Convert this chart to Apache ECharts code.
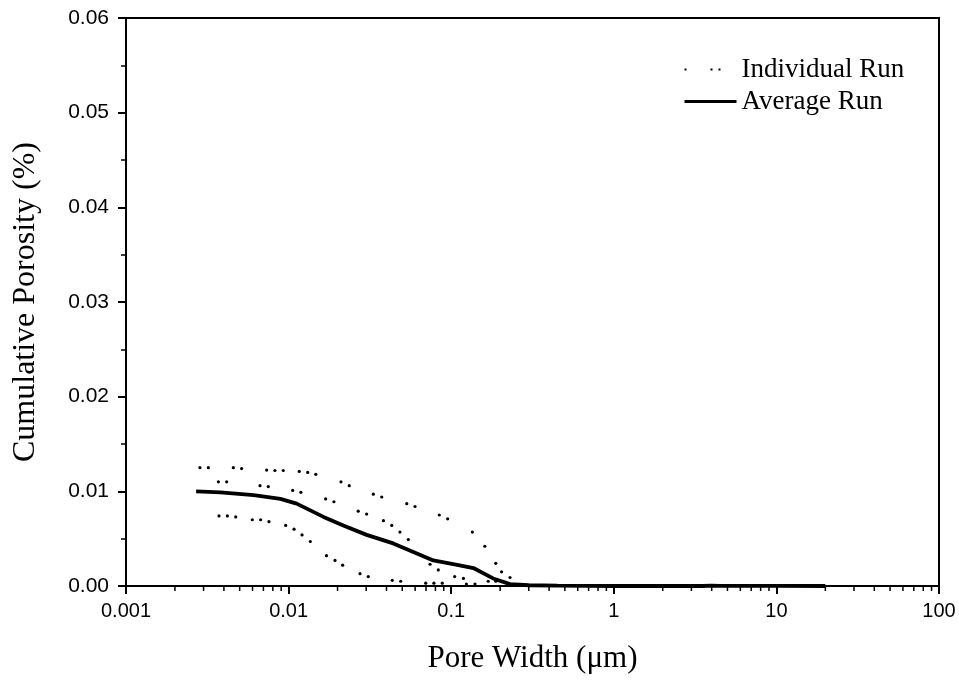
<!DOCTYPE html>
<html>
<head>
<meta charset="utf-8">
<script src="https://cdn.jsdelivr.net/npm/echarts@6/dist/echarts.min.js"></script>
<style>
html,body{margin:0;padding:0;background:#fff;}
#chart{width:959px;height:695px;}
</style>
</head>
<body>
<div id="chart"></div>
<script>
// ---- data ----
var xTickLabels = ['0.001', '0.01', '0.1', '1', '10', '100'];
var yTickLabels = ['0.00', '0.01', '0.02', '0.03', '0.04', '0.05', '0.06'];
var minorTickVals = [
  0.002,0.003,0.004,0.005,0.006,0.007,0.008,0.009,
  0.02,0.03,0.04,0.05,0.06,0.07,0.08,0.09,
  0.2,0.3,0.4,0.5,0.6,0.7,0.8,0.9,
  2,3,4,5,6,7,8,9,
  20,30,40,50,60,70,80,90
];

var avgX = [0.0027,0.0038,0.0061,0.0089,0.0112,0.0164,0.0217,0.0302,0.044,0.0585,0.0776,0.103,0.137,0.181,0.23,0.30,0.45,0.7,1.0,2.0,3.5,4.0,4.5,6,10,20];
var avgY = [0.0100,0.0099,0.0096,0.0092,0.0087,0.0073,0.0064,0.0054,0.0045,0.0036,0.0027,0.0023,0.0019,0.0008,0.0002,0.00008,0.00003,0.00001,0,0,0,0.00005,0.00002,0.00002,0.00001,0];

var run1X = [0.00285,0.00321,0.00457,0.00514,0.00733,0.00824,0.00927,0.01163,0.0131,0.0147,0.0210,0.0236,0.0332,0.0374,0.0533,0.0599,0.0845,0.0951,0.135,0.161,0.188,0.204,0.230];
var run1Y = [0.0125,0.0125,0.0125,0.0124,0.01225,0.0122,0.0122,0.0121,0.0120,0.0118,0.0110,0.0106,0.0097,0.0094,0.0087,0.0084,0.0075,0.0071,0.0057,0.0042,0.0024,0.0015,0.0009];

var run2X = [0.00370,0.00416,0.00667,0.0075,0.0106,0.0119,0.0169,0.0190,0.0268,0.0302,0.0383,0.0431,0.0484,0.0545,0.0741,0.0833,0.105,0.119,0.169,0.188];
var run2Y = [0.0110,0.0110,0.0106,0.0105,0.0101,0.0099,0.0092,0.0089,0.0079,0.0076,0.0069,0.0064,0.0057,0.0049,0.0023,0.0017,0.0010,0.0008,0.0005,0.0005];

var run3X = [0.00373,0.00420,0.00473,0.00598,0.00673,0.00757,0.0096,0.0108,0.0121,0.0136,0.0171,0.0193,0.0215,0.0275,0.0309,0.0434,0.0489,0.0697,0.0783,0.0881,0.124,0.140];
var run3Y = [0.0074,0.0074,0.0073,0.0070,0.0070,0.0068,0.0064,0.0060,0.0054,0.0047,0.0032,0.0027,0.0022,0.0013,0.0010,0.0006,0.0005,0.0003,0.0003,0.0003,0.0002,0.0002];

function zip(xs, ys){ return xs.map(function(x,i){ return [x, ys[i]]; }); }

var chart = echarts.init(document.getElementById('chart'), null, {renderer:'canvas'});

var runSeries = function(xs, ys){
  return {
    name: 'Individual Run',
    type: 'line',
    data: zip(xs, ys),
    showSymbol: true,
    showAllSymbol: true,
    symbol: 'circle',
    symbolSize: 3.2,
    itemStyle: {color: '#000'},
    lineStyle: {opacity: 0, color: '#000'},
    emphasis: {disabled: true},
    animation: false,
    z: 3
  };
};

var option = {
  backgroundColor: '#fff',
  animation: false,
  grid: {left: 126, right: 20, top: 18, bottom: 109, containLabel: false},
  legend: {
    orient: 'vertical',
    left: 678,
    top: 51,
    itemWidth: 52,
    itemHeight: 14,
    itemGap: 5,
    textStyle: {fontFamily: 'Liberation Serif', fontSize: 27, color: '#000'},
    data: [
      {name: 'Individual Run', itemStyle: {opacity: 0},
       lineStyle: {type: [2, 24, 2, 6, 2, 200], width: 2, color: '#000', opacity: 1}},
      {name: 'Average Run', itemStyle: {opacity: 0},
       lineStyle: {type: 'solid', width: 3, color: '#000', opacity: 1}}
    ]
  },
  xAxis: [{
    type: 'log',
    logBase: 10,
    min: 0.001,
    max: 100,
    name: 'Pore Width (\u03bcm)',
    nameLocation: 'middle',
    nameGap: 57,
    nameTextStyle: {fontFamily: 'Liberation Serif', fontSize: 31, color: '#000'},
    axisLine: {onZero: false, lineStyle: {color: '#000', width: 2}},
    axisTick: {show: true, inside: false, length: 8, lineStyle: {color: '#000', width: 2}},
    axisLabel: {
      margin: 15,
      fontFamily: 'Liberation Sans', fontSize: 20, color: '#000',
      formatter: function(v){
        var s = String(parseFloat(Number(v).toPrecision(6)));
        return xTickLabels.indexOf(s) >= 0 ? s : '';
      }
    },
    splitLine: {show: false}
  }, {
    type: 'log',
    logBase: 10,
    min: 0.001,
    max: 100,
    position: 'top',
    axisLine: {show: true, onZero: false, lineStyle: {color: '#000', width: 2}},
    axisTick: {show: false},
    axisLabel: {show: false},
    splitLine: {show: false}
  }],
  yAxis: [{
    type: 'value',
    min: 0,
    max: 0.06,
    interval: 0.01,
    name: 'Cumulative Porosity (%)',
    nameLocation: 'middle',
    nameGap: 84,
    nameTextStyle: {fontFamily: 'Liberation Serif', fontSize: 32, color: '#000'},
    axisLine: {show: true, onZero: false, lineStyle: {color: '#000', width: 2}},
    axisTick: {show: true, inside: false, length: 8, lineStyle: {color: '#000', width: 2}},
    minorTick: {show: true, splitNumber: 2, length: 5, lineStyle: {color: '#000', width: 1.5}},
    axisLabel: {
      margin: 17,
      fontFamily: 'Liberation Sans', fontSize: 21, color: '#000',
      formatter: function(v){ return yTickLabels[Math.round(v / 0.01)]; }
    },
    splitLine: {show: false}
  }, {
    type: 'value',
    min: 0,
    max: 0.06,
    interval: 0.01,
    position: 'right',
    axisLine: {show: true, onZero: false, lineStyle: {color: '#000', width: 2}},
    axisTick: {show: false},
    axisLabel: {show: false},
    splitLine: {show: false}
  }],
  series: [
    runSeries(run1X, run1Y),
    runSeries(run2X, run2Y),
    runSeries(run3X, run3Y),
    {
      name: 'Average Run',
      type: 'line',
      data: zip(avgX, avgY),
      showSymbol: false,
      symbol: 'none',
      lineStyle: {color: '#000', width: 3.8},
      itemStyle: {color: '#000'},
      emphasis: {disabled: true},
      z: 4
    },
    {
      name: 'minorTicks',
      type: 'custom',
      silent: true,
      clip: false,
      data: minorTickVals.map(function(v){ return [v, 0]; }),
      renderItem: function(params, api){
        var p = api.coord([api.value(0), 0]);
        return {
          type: 'line',
          shape: {x1: p[0], y1: p[1], x2: p[0], y2: p[1] + 5},
          style: {stroke: '#000', lineWidth: 1.5}
        };
      },
      z: 5
    }
  ]
};
chart.setOption(option);
</script>
</body>
</html>
